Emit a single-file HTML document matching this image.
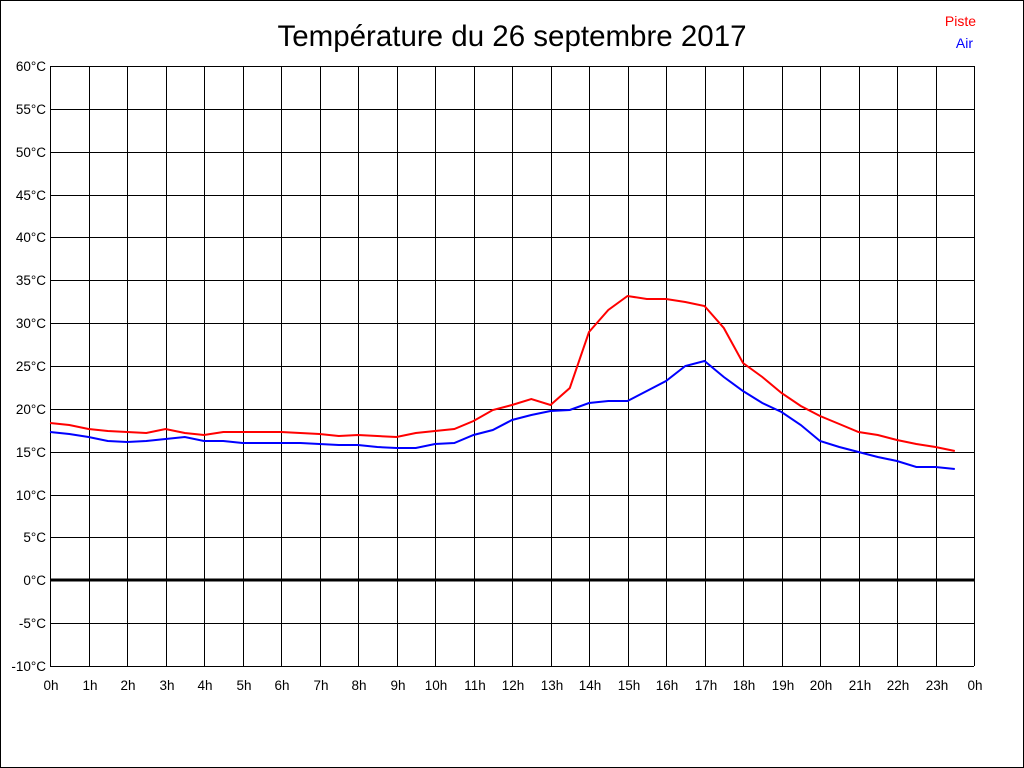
<!DOCTYPE html>
<html><head><meta charset="utf-8"><style>
html,body{margin:0;padding:0;background:#fff}
svg{display:block}
text{font-family:"Liberation Sans",sans-serif}
</style></head><body>
<svg width="1024" height="768" xmlns="http://www.w3.org/2000/svg">
<rect x="0.5" y="0.5" width="1023" height="767" fill="#fff" stroke="#000"/>
<text x="512" y="46" font-size="29.5" text-anchor="middle">Température du 26 septembre 2017</text>
<text x="976" y="26" font-size="14" fill="#f00" text-anchor="end">Piste</text>
<text x="973" y="48" font-size="14" fill="#00f" text-anchor="end">Air</text>
<g id="grid" stroke="#000" stroke-width="1" shape-rendering="crispEdges"></g>
<g id="lab" font-size="13.5"></g>
<line x1="50" y1="580" x2="974" y2="580" stroke="#000" stroke-width="3"/>
<polyline id="red" fill="none" stroke="#f00" stroke-width="2"/>
<polyline id="blue" fill="none" stroke="#00f" stroke-width="2"/>
</svg>
<script>
var ns="http://www.w3.org/2000/svg",g=document.getElementById('grid'),l=document.getElementById('lab');
function el(p,t,a,txt){var e=document.createElementNS(ns,t);for(var k in a)e.setAttribute(k,a[k]);if(txt!=null)e.textContent=txt;p.appendChild(e);}
for(var i=0;i<=14;i++){var y=66+i*600/14;y=Math.round(y);el(g,'line',{x1:50,x2:974,y1:y+0.5,y2:y+0.5});el(l,'text',{x:46,y:y+5,'text-anchor':'end'},(60-5*i)+'°C');}
for(var h=0;h<=24;h++){var x=Math.round(50+38.5*h);el(g,'line',{x1:x+0.5,x2:x+0.5,y1:66,y2:666});el(l,'text',{x:x+1,y:690,'text-anchor':'middle'},(h%24)+'h');}
var R=[423,425,429,431,432,433,429,433,435,432,432,432,432,433,434,436,435,436,437,433,431,429,421,410,405,399,405,388,332,310,296,299,299,302,306,328,363,377,393,406,416,424,432,435,440,444,447,451];
var B=[432,434,437,441,442,441,439,437,441,441,443,443,443,443,444,445,445,447,448,448,444,443,435,430,420,415,411,410,403,401,401,391,381,366,361,377,391,403,412,425,441,447,452,457,461,467,467,469];
function pts(a){return a.map(function(y,i){return (50+19.25*i).toFixed(1)+','+y}).join(' ');}
document.getElementById('red').setAttribute('points',pts(R));
document.getElementById('blue').setAttribute('points',pts(B));
</script>
</body></html>
